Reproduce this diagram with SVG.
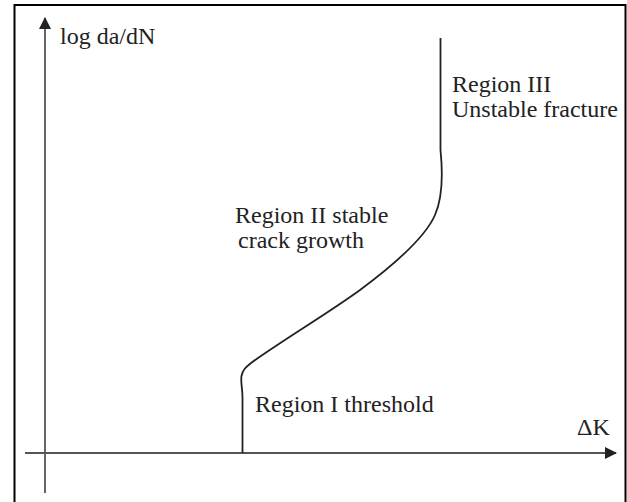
<svg xmlns="http://www.w3.org/2000/svg" width="627" height="502" viewBox="0 0 627 502">
<style>
text{font-family:"Liberation Serif","Times New Roman",serif;font-size:24px;fill:#222}
.axis{stroke:#555;stroke-width:1.8;fill:none}
.curve{stroke:#222;stroke-width:1.8;fill:none}
.frame{stroke:#000;stroke-width:2;fill:none}
</style>
<defs>
<marker id="ah" viewBox="0 0 12 12" refX="11" refY="6" markerWidth="12" markerHeight="12" markerUnits="userSpaceOnUse" orient="auto">
<path d="M0,0 L12,6 L0,12 Z" fill="#222"/>
</marker>
</defs>
<rect width="627" height="502" fill="#fff"/>
<path class="frame" d="M14.5,502 V5 H625.5 V502"/>
<g id="connectors">
<line class="axis" x1="45" y1="493" x2="45" y2="18" marker-end="url(#ah)"/>
<line class="axis" x1="25" y1="453" x2="616" y2="453" marker-end="url(#ah)"/>
<path class="curve" d="M242.5,453 V398 C242.5,388 240.5,382 241.5,376 C242.5,370 246,367 251,363 C280,342 330,312 360,290 C395,264 425,238 435,215 C443,197 443,175 440.5,150 V38"/>
</g>
<g id="ylabel"><text x="60" y="44">log da/dN</text></g>
<g id="xlabel"><text x="577" y="435">ΔK</text></g>
<g id="region3"><text x="452" y="92">Region III</text><text x="452" y="117">Unstable fracture</text></g>
<g id="region2"><text x="235" y="223">Region II stable</text><text x="238" y="248">crack growth</text></g>
<g id="region1"><text x="255" y="412">Region I threshold</text></g>
</svg>
